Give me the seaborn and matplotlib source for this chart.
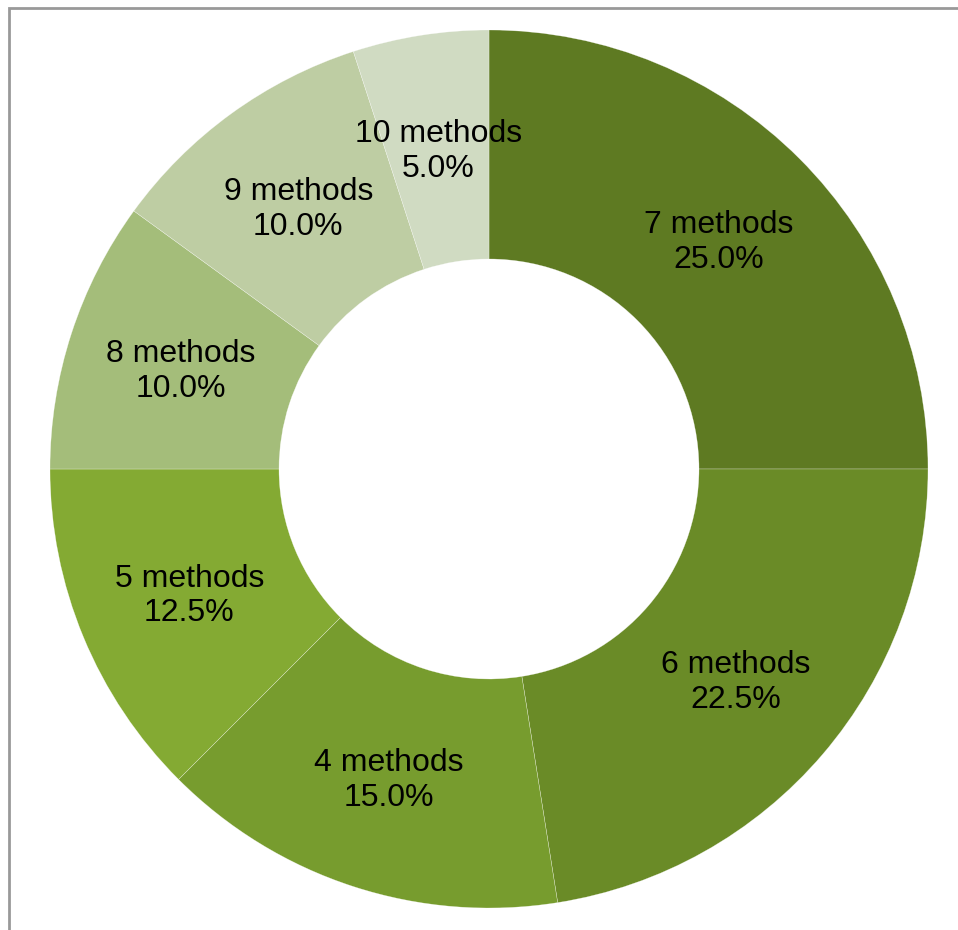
import matplotlib
matplotlib.use("Agg")
import matplotlib.pyplot as plt
from matplotlib.patches import Rectangle
import numpy as np
import seaborn as sns

# Share of items by number of methods used (clockwise from 12 o'clock)
categories = ["7 methods", "6 methods", "4 methods", "5 methods",
              "8 methods", "9 methods", "10 methods"]
shares = [25.0, 22.5, 15.0, 12.5, 10.0, 10.0, 5.0]
colors = ["#5E7A22", "#6A8B27", "#779C2E", "#84AA33",
          "#A4BD7A", "#BECDA3", "#D0DBC2"]

sns.set_theme(style="white")
plt.rcParams["font.family"] = ["Liberation Sans", "DejaVu Sans"]
palette = sns.color_palette(colors)

W, H = 958, 930
fig = plt.figure(figsize=(W / 100, H / 100), dpi=100)
ax = fig.add_axes([0, 0, 1, 1])

cx, cy = 489, H - 469
r_out, r_in = 439, 210
width = r_out - r_in

wedges, _ = ax.pie(
    shares, colors=palette, startangle=90, counterclock=False,
    radius=r_out, center=(cx, cy), frame=True,
    wedgeprops=dict(width=width, edgecolor=(1, 1, 1, 0.6), linewidth=0.3),
)
ax.set_xlim(0, W)
ax.set_ylim(0, H)
ax.set_aspect("equal")
ax.axis("off")

# Labels sit at the middle of the ring
r_lab = (r_out + r_in) / 2
cum = np.cumsum([0] + shares[:-1])
for cat, val, start in zip(categories, shares, cum):
    mid = 90 - (start + val / 2) / 100 * 360
    ang = np.deg2rad(mid)
    x = cx + r_lab * np.cos(ang)
    y = cy + r_lab * np.sin(ang) - 3
    ax.text(x, y, f"{cat}\n{val:.1f}%", ha="center", va="center",
            fontsize=23, color="black", linespacing=1.2)

# Chart-area frame (only left and top edges fall inside the canvas)
ax.add_patch(Rectangle((9, -20), W + 40, H - 8 + 20, fill=False,
                       edgecolor="#999999", linewidth=2.0, clip_on=False))

fig.savefig("out.png", dpi=100, facecolor="white")
